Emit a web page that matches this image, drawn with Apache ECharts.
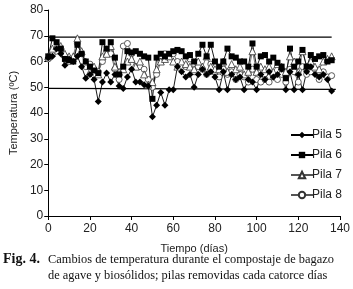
<!DOCTYPE html>
<html>
<head>
<meta charset="utf-8">
<script src="https://cdn.jsdelivr.net/npm/echarts@6/dist/echarts.min.js"></script>
<style>
    html, body { margin: 0; padding: 0; background: #fff; }
    #grafica { width: 353px; height: 289px; }
</style>
</head>
<body>
<div id="grafica"></div>
<script>
// dias de muestreo (cada 2 dias)
const dias = [];
for (let d = 0; d <= 136; d += 2) dias.push(d);

// temperaturas (ºC)
const pila5 = [61.5, 62, 65, 63, 58.5, 61, 60, 62, 58, 53.5, 55, 53, 44.5, 52, 55.5, 52, 55, 50.5, 49.5, 54,
    57, 52, 52, 51, 50.5, 38.5, 43, 48, 43, 49, 49, 58, 56, 54, 55, 50, 55, 57, 55, 56,
    54, 49, 56, 49, 55, 53, 54, 49, 53, 52, 49, 55, 53, 56, 54, 55, 57, 49, 56, 49,
    55, 49, 56, 58, 55, 54, 55, 53, 48.5];
const pila6 = [62, 69, 67.5, 65, 61, 60.5, 60, 66.5, 63, 60, 58, 56.5, 55.5, 67.5, 65, 67.5, 61.5, 55, 58, 64,
    63.5, 64, 63, 62, 61.5, 45.5, 61.5, 63, 62, 63, 64, 64.5, 64, 62, 62.5, 60, 63, 66.5, 62, 66.5,
    60, 58, 60, 65, 62, 61.5, 60, 60, 58, 67, 58, 62, 62.5, 60, 61.5, 59.5, 58, 53.5, 65, 58,
    60, 64.5, 58, 62.5, 61, 62, 62.5, 60, 60.5];
const pila7 = [62, 65, 66, 66, 63, 62, 62, 69, 64, 60, 56, 58, 55, 62, 63, 66, 58, 56, 57, 60,
    61, 58, 60, 55, 51, 52, 57, 60, 61, 62, 60, 58, 60, 59, 58, 57, 60, 58, 62, 58,
    57, 57, 60, 56, 59, 57, 58, 55, 56, 64, 56, 58, 57, 58, 56, 59, 58, 56, 62, 60,
    56, 64, 58, 60, 58, 57, 60, 61, 62];
const pila8 = [61, 63, 64, 65, 62, 60, 61, 67, 63, 58, 59, 57, 56, 60, 64, 63, 57, 53, 66, 67,
    63, 58, 58, 57, 53, 50, 55, 60, 63, 62, 63, 60, 58, 58, 61, 56, 58, 57, 55, 59,
    56, 54, 57, 55, 56, 53, 55, 54, 52, 57, 53, 52, 53, 52, 54, 53, 55, 52, 57, 56,
    52, 58, 55, 56, 57, 53, 56, 54, 54.5];

// lineas de referencia horizontales
const limiteSup = [[0, 69.5], [136, 69.5]];
const limiteInf = [[0, 49.6], [138, 49.2]];

const ticksX = [0, 20, 40, 60, 80, 100, 120, 140];

function pares(valores) {
    return dias.map((d, i) => [d, valores[i]]);
}

var myChart = echarts.init(document.getElementById('grafica'));

const fuente = 'Liberation Sans, Arial, sans-serif';
const serif = 'Liberation Serif, Times New Roman, serif';

var option = {
    animation: false,
    backgroundColor: '#fff',
    textStyle: { fontFamily: fuente },
    grid: { left: 35, right: 11, top: 10, bottom: 73 },
    legend: {
        data: ['Pila 5', 'Pila 6', 'Pila 7', 'Pila 8'],
        orient: 'vertical',
        left: 285,
        top: 124,
        itemWidth: 22,
        itemHeight: 8,
        itemGap: 8,
        textStyle: { fontSize: 12, color: '#222', padding: [0, 0, 0, -6] }
    },
    xAxis: {
        type: 'value',
        min: 0,
        max: 140,
        interval: 20,
        name: 'Tiempo (días)',
        nameLocation: 'middle',
        nameGap: 27,
        nameTextStyle: { fontSize: 11, color: '#222' },
        axisLine: { lineStyle: { color: '#000', width: 1 } },
        axisTick: { show: true, length: 4, lineStyle: { color: '#000' } },
        axisLabel: {
            fontSize: 12, color: '#222', margin: 7,
            formatter: v => ticksX.includes(v) ? String(v) : ''
        },
        splitLine: { show: false }
    },
    yAxis: {
        type: 'value',
        min: 0,
        max: 80,
        interval: 10,
        name: 'Temperatura (ºC)',
        nameLocation: 'middle',
        nameGap: 24,
        nameTextStyle: { fontSize: 11, color: '#222' },
        axisLine: { show: true, lineStyle: { color: '#000', width: 1 } },
        axisTick: { show: true, length: 4, lineStyle: { color: '#000' } },
        axisLabel: { fontSize: 12, color: '#222', margin: 5 },
        splitLine: { show: false }
    },
    series: [
        {
            name: 'limSup', type: 'line', data: limiteSup, symbol: 'none',
            lineStyle: { color: '#000', width: 1.2 }, silent: true
        },
        {
            name: 'limInf', type: 'line', data: limiteInf, symbol: 'none',
            lineStyle: { color: '#000', width: 1.2 }, silent: true
        },
        {
            name: 'Pila 8', type: 'line', data: pares(pila8),
            symbol: 'circle', symbolSize: 6,
            itemStyle: { color: '#fff', borderColor: '#333', borderWidth: 0.8 },
            lineStyle: { color: '#555', width: 0.8 }
        },
        {
            name: 'Pila 7', type: 'line', data: pares(pila7),
            symbol: 'triangle', symbolSize: 7,
            itemStyle: { color: '#fff', borderColor: '#333', borderWidth: 0.8 },
            lineStyle: { color: '#555', width: 0.8 }
        },
        {
            name: 'Pila 5', type: 'line', data: pares(pila5),
            symbol: 'diamond', symbolSize: 7,
            itemStyle: { color: '#000' },
            lineStyle: { color: '#000', width: 0.9 }
        },
        {
            name: 'Pila 6', type: 'line', data: pares(pila6),
            symbol: 'rect', symbolSize: 6,
            itemStyle: { color: '#000' },
            lineStyle: { color: '#000', width: 0.9 }
        }
    ],
    graphic: [
        {
            type: 'text', left: 3, top: 252,
            style: { text: 'Fig. 4.', font: 'bold 14px ' + serif, fill: '#111' }
        },
        {
            type: 'text', left: 48, top: 252,
            style: {
                text: 'Cambios de temperatura durante el compostaje de bagazo\nde agave y biosólidos; pilas removidas cada catorce días',
                font: '12.4px ' + serif, fill: '#111', lineHeight: 15.5
            }
        }
    ]
};

myChart.setOption(option);
</script>
</body>
</html>
